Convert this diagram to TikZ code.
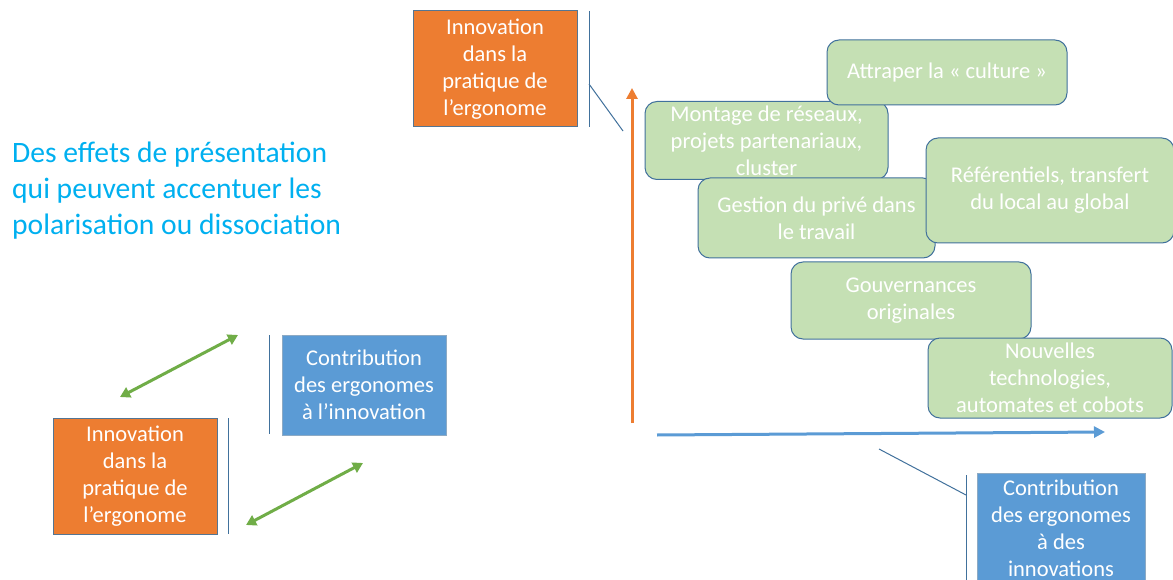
\documentclass[tikz,border=0pt]{standalone}
\usepackage{fontspec}
\setmainfont{Carlito}
\usetikzlibrary{arrows.meta}
\definecolor{orng}{HTML}{ED7D31}
\definecolor{blu}{HTML}{5B9BD5}
\definecolor{grnfill}{HTML}{C5E0B4}
\definecolor{edge}{HTML}{41719C}
\definecolor{grnarrow}{HTML}{70AD47}
\definecolor{titlecol}{HTML}{00B0F0}
\tikzset{
  boxtext/.style={font=\fontsize{22.5}{27}\selectfont, text=white, align=center, inner sep=0pt},
  orangebox/.style={boxtext, rectangle, fill=orng, draw=edge!70!gray, line width=1pt},
  bluebox/.style={boxtext, rectangle, fill=blu, draw=edge!60!white, line width=1pt},
  greenbox/.style={boxtext, rectangle, rounded corners=12pt, fill=grnfill, draw=edge, line width=1pt},
  thinline/.style={draw=edge, line width=1pt},
  greenarrow/.style={draw=grnarrow, line width=3pt, {Triangle[width=11pt,length=10pt]}-{Triangle[width=11pt,length=10pt]}},
}
\begin{document}
\begin{tikzpicture}[x=1pt,y=-1pt]
\useasboundingbox (0,0) rectangle (1173,580);
\fill[white] (0,0) rectangle (1173,580);

% title
\node[font=\fontsize{29.6}{36}\selectfont, text=titlecol, align=left, anchor=west, inner sep=0pt] (title) at (12,190.5)
  {Des effets de présentation\\qui peuvent accentuer les\\polarisation ou dissociation};

% top orange box and its bracket
\node[orangebox, minimum width=164pt, minimum height=116pt] (topor) at (495,69)
  {Innovation\\dans la\\pratique de\\l’ergonome};
\coordinate (tb1) at (589,11);
\coordinate (tb2) at (589,127);
\coordinate (tb3) at (589,84);
\coordinate (tb4) at (623,131);
\draw[thinline] (tb1) -- (tb2);
\draw[thinline] (tb3) -- (tb4);

% axes
\coordinate (va1) at (632,423);
\coordinate (va2) at (632,88);
\draw[draw=orng, line width=3pt, -{Triangle[width=11pt,length=11pt]}] (va1) -- (va2);
\coordinate (ha1) at (657,435);
\coordinate (ha2) at (1105,432);
\draw[draw=blu, line width=3pt, -{Triangle[width=11pt,length=11pt]}] (ha1) -- (ha2);

% green boxes
\node[greenbox, minimum width=243pt, minimum height=78pt] (mont) at (766.5,140.5)
  {Montage de réseaux,\\projets partenariaux,\\cluster};
\node[greenbox, minimum width=240pt, minimum height=65pt] (attr) at (947,72.5)
  {Attraper la « culture »};
\node[greenbox, minimum width=237pt, minimum height=80pt] (gest) at (816.5,218)
  {Gestion du privé dans\\le travail};
\node[greenbox, minimum width=248pt, minimum height=105pt] (refe) at (1050,190.5)
  {Référentiels, transfert\\du local au global};
\node[greenbox, minimum width=240pt, minimum height=77pt] (gouv) at (911,300.5)
  {Gouvernances\\originales};
\node[greenbox, minimum width=244pt, minimum height=80pt] (nouv) at (1050,378)
  {Nouvelles\\technologies,\\automates et cobots};

% bottom right blue box and its bracket
\node[bluebox, minimum width=168pt, minimum height=110pt] (brbl) at (1061,528)
  {Contribution\\des ergonomes\\à des\\innovations};
\coordinate (bb1) at (966,475);
\coordinate (bb2) at (966,582);
\coordinate (bb3) at (879,449);
\coordinate (bb4) at (966,495);
\draw[thinline] (bb1) -- (bb2);
\draw[thinline] (bb3) -- (bb4);

% bottom-left group
\node[orangebox, minimum width=164pt, minimum height=116pt] (blor) at (135,476)
  {Innovation\\dans la\\pratique de\\l’ergonome};
\node[bluebox, minimum width=164pt, minimum height=100pt] (blbl) at (364,385)
  {Contribution\\des ergonomes\\à l’innovation};
\coordinate (lb1) at (228,418);
\coordinate (lb2) at (228,534);
\draw[thinline] (lb1) -- (lb2);
\coordinate (lb3) at (269,335);
\coordinate (lb4) at (269,434);
\draw[thinline] (lb3) -- (lb4);

\coordinate (ga1) at (120,397);
\coordinate (ga2) at (238,335);
\draw[greenarrow] (ga1) -- (ga2);
\coordinate (gb1) at (246,525);
\coordinate (gb2) at (363,463);
\draw[greenarrow] (gb1) -- (gb2);
\end{tikzpicture}
\end{document}
